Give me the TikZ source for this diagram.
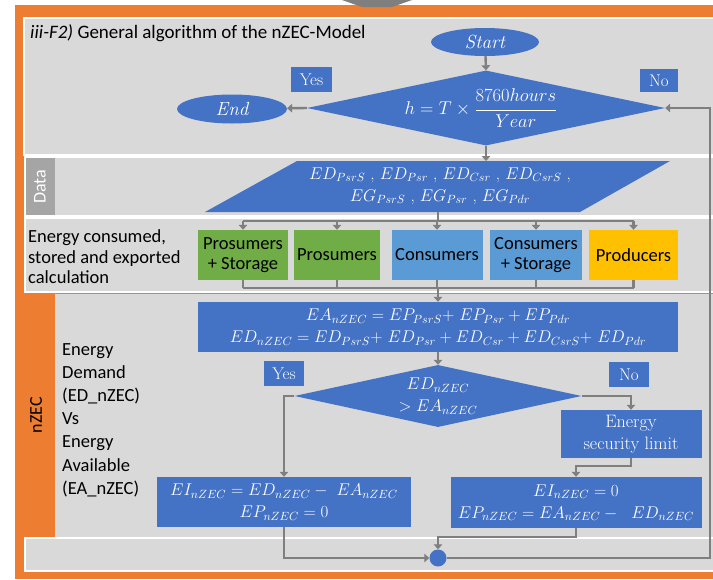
\RequirePackage{fix-cm}
\documentclass[tikz,border=0pt]{standalone}
\usepackage{fontspec}
\usetikzlibrary{arrows.meta,shapes.geometric}
\newfontfamily\carl{Carlito}

\definecolor{orangeband}{HTML}{ED7D31}
\definecolor{panelgray}{HTML}{D9D9D9}
\definecolor{stripgray}{HTML}{A5A5A5}
\definecolor{flowblue}{HTML}{4472C4}
\definecolor{leafgreen}{HTML}{70AD47}
\definecolor{skyblue}{HTML}{5B9BD5}
\definecolor{sunyellow}{HTML}{FFC000}
\definecolor{linkgray}{HTML}{7F7F7F}

\tikzset{
  panel/.style={fill=panelgray, draw=white, line width=1.5pt},
  mathbox/.style={fill=flowblue, text=white, inner sep=0pt, align=center,
    font=\fontsize{17}{22}\selectfont},
  oval/.style={ellipse, fill=flowblue, text=white, inner sep=0pt,
    font=\fontsize{19}{20}\selectfont\itshape},
  tag/.style={fill=flowblue, text=white, inner sep=0pt,
    font=\fontsize{17}{20}\selectfont},
  groupbox/.style={inner sep=0pt, minimum height=50pt, align=center,
    font=\carl\fontsize{18.5}{20}\selectfont},
  sidetext/.style={align=left, inner sep=0pt, font=\carl\fontsize{18.5}{20.5}\selectfont},
  link/.style={draw=linkgray, line width=2.4pt},
  flow/.style={link, -{Triangle[length=5pt,width=8.5pt]}},
}

\begin{document}
\begin{tikzpicture}[x=1pt, y=-1pt]
\useasboundingbox (0,0) rectangle (713,579);
\fill[white] (0,0) rectangle (713,579);

% outer frame
\fill[orangeband] (15,5) rectangle (714,579);
% tip of the incoming arrow
\fill[linkgray] (342,0) -- (412,0) -- (392,7) -- (362,7) -- cycle;

% panels
\path[panel] (24,18) rectangle (714,155);
\path[panel] (25,157) rectangle (714,216);
\fill[stripgray] (26,158) rectangle (55,215);
\path[panel] (25,218) rectangle (714,292);
\fill[panelgray] (55,294) rectangle (714,537);
\path[panel] (25,538) rectangle (714,571);

% row labels
\node[rotate=90, text=white, font=\carl\fontsize{18}{20}\selectfont] (datalabel) at (40,187) {Data};
\node[rotate=90, font=\carl\fontsize{18}{20}\selectfont] (nzeclabel) at (36,415) {nZEC};
\node[sidetext, anchor=west] (calctext) at (28,257)
  {Energy consumed,\\stored and exported\\calculation};
\node[sidetext, anchor=west, font=\carl\fontsize{18.5}{23.2}\selectfont] (vstext) at (62,420)
  {Energy\\Demand\\(ED\_nZEC)\\Vs\\Energy\\Available\\(EA\_nZEC)};

% title
\node[anchor=base west, inner sep=0pt, font=\carl\fontsize{19}{20}\selectfont] (title) at (30,38)
  {\textit{iii-F2)} General algorithm of the nZEC-Model};

% time loop
\node[oval, minimum width=108pt, minimum height=28pt] (start) at (485,42) {Start};
\node[diamond, fill=flowblue, minimum width=358pt, minimum height=75pt, inner sep=0pt] (d1) at (486,108) {};
\node[text=white, inner sep=0pt, font=\fontsize{18.5}{20}\selectfont] (d1text) at (481,108)
  {$h = T\times\displaystyle\frac{8760hours}{Year}$};
\node[oval, minimum width=110pt, minimum height=29pt] (stop) at (232,109) {End};
\node[tag, minimum width=41pt, minimum height=25pt] (yes1) at (311.5,79.5) {Yes};
\node[tag, minimum width=38pt, minimum height=23pt] (no1) at (659,80.5) {No};

% input data
\fill[flowblue] (297,161) -- (670,161) -- (580,212) -- (205,212) -- cycle;
\coordinate (dtop) at (486,161);
\coordinate (dbot) at (438,212);
\node[text=white, align=center, inner sep=0pt, font=\fontsize{17}{22}\selectfont] (datatext) at (440,186)
  {$ED_{PsrS}$ , $ED_{Psr}$ , $ED_{Csr}$ , $ED_{CsrS}$ ,\\
   $EG_{PsrS}$ , $EG_{Psr}$ , $EG_{Pdr}$};

% groups
\node[groupbox, fill=leafgreen, minimum width=90pt] (ps) at (243,255) {Prosumers\\+ Storage};
\node[groupbox, fill=leafgreen, minimum width=86pt] (pr) at (337,255) {Prosumers};
\node[groupbox, fill=skyblue, minimum width=91pt] (cs) at (437,255) {Consumers};
\node[groupbox, fill=skyblue, minimum width=92pt] (css) at (536,255) {Consumers\\+ Storage};
\node[groupbox, fill=sunyellow, minimum width=89pt] (pd) at (633.5,255) {Producers};
\coordinate (busup) at (438,221);
\coordinate (busdown) at (438,288);

% balance
\node[mathbox, minimum width=480pt, minimum height=50pt] (balance) at (438,327)
  {$EA_{nZEC} = EP_{PsrS}{+}\ EP_{Psr} + EP_{Pdr}$\\
   $ED_{nZEC} = ED_{PsrS}{+}\ ED_{Psr} + ED_{Csr} + ED_{CsrS}{+}\ ED_{Pdr}$};
\node[diamond, fill=flowblue, minimum width=287pt, minimum height=62pt, inner sep=0pt] (d2) at (438,396) {};
\node[text=white, align=center, inner sep=0pt, font=\fontsize{17}{22}\selectfont] (d2text) at (438,396)
  {$ED_{nZEC}$\\$> EA_{nZEC}$};
\node[tag, minimum width=40pt, minimum height=25pt] (yes2) at (284,373.5) {Yes};
\node[tag, minimum width=40pt, minimum height=25pt] (no2) at (629,374.5) {No};
\node[tag, align=center, minimum width=141pt, minimum height=48pt, font=\fontsize{18}{22}\selectfont] (limit) at (631,434)
  {Energy\\security limit};
\node[mathbox, minimum width=254pt, minimum height=50pt] (lres) at (284,502)
  {$EI_{nZEC} = ED_{nZEC} -\ EA_{nZEC}$\\ $EP_{nZEC} = 0$};
\node[mathbox, minimum width=251pt, minimum height=51pt] (rres) at (576,502.5)
  {$EI_{nZEC} = 0$\\ $EP_{nZEC} = EA_{nZEC} -\ \ ED_{nZEC}$};
\node[circle, fill=flowblue, minimum size=17pt, inner sep=0pt] (join) at (438,558) {};
\coordinate (loopback) at (710,558);

% connectors
\draw[flow] (start) -- (d1.north);
\draw[flow] (d1.west) -- (stop);
\draw[flow] (d1.south) -- (dtop);
\draw[link] (dbot) -- (busup);
\draw[link] (ps.north |- busup) -- (pd.north |- busup);
\foreach \g in {ps,pr,cs,css,pd}{
  \draw[flow] (\g.north |- busup) -- (\g.north);
  \draw[link] (\g.south) -- (\g.south |- busdown);
}
\draw[link] (ps.south |- busdown) -- (pd.south |- busdown);
\draw[flow] (busdown) -- (balance.north);
\draw[flow] (balance.south) -- (d2.north);
\draw[flow] (d2.west) -| (lres.north);
\draw[flow] (d2.east) -| (limit.north);
\draw[flow] (limit.south) -- ++(0,8) -| (rres.north);
\draw[flow] (lres.south) |- (join.west);
\draw[flow] (rres.south) -- ++(0,9) -| (join.north);
\draw[flow] (join.east) -- (loopback) |- (d1.east);
\end{tikzpicture}
\end{document}
